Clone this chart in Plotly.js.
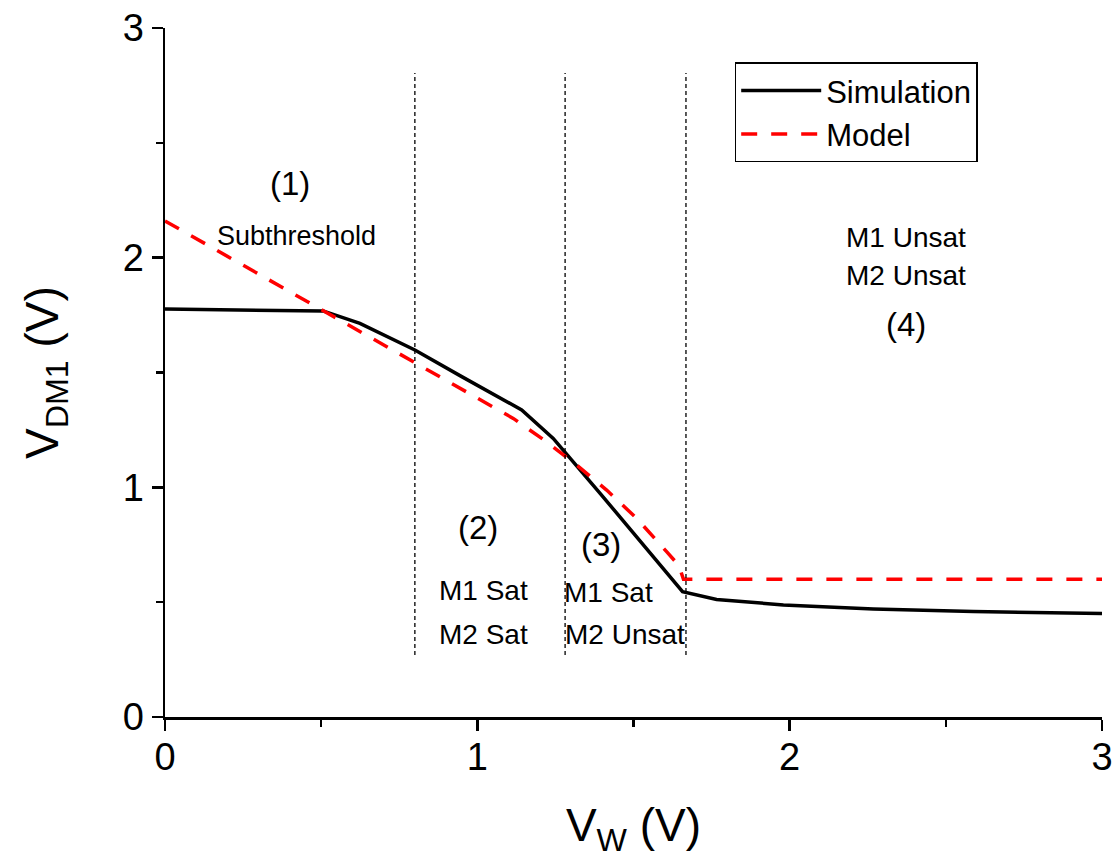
<!DOCTYPE html>
<html><head><meta charset="utf-8">
<script src="https://cdn.plot.ly/plotly-3.0.1.min.js"></script>
<style>html,body{margin:0;padding:0;background:#fff}#chart{width:1120px;height:867px}</style>
</head><body><div id="chart"></div>
<script>
const simX = [0, 0.42, 0.506, 0.624, 0.80, 0.95, 1.142, 1.243, 1.393, 1.657, 1.766, 1.98, 2.268, 2.588, 3.0];
const simY = [1.776, 1.772, 1.768, 1.714, 1.598, 1.482, 1.337, 1.213, 0.974, 0.546, 0.512, 0.488, 0.470, 0.459, 0.451];
const modelX = [0, 0.506, 0.803, 1.115, 1.222, 1.318, 1.414, 1.51, 1.606, 1.645, 1.66, 3.0];
const modelY = [2.16, 1.768, 1.54, 1.30, 1.198, 1.097, 0.988, 0.865, 0.72, 0.66, 0.60, 0.60];
const regionBounds = [0.80, 1.281, 1.668];
const regionTop = 2.804, regionBottom = 0.27;
const labels = [
  {x: 0.40, y: 2.325, t: "(1)", s: 33},
  {x: 0.42, y: 2.094, t: "Subthreshold", s: 27},
  {x: 1.002, y: 0.823, t: "(2)", s: 33},
  {x: 1.02, y: 0.549, t: "M1 Sat", s: 28},
  {x: 1.02, y: 0.361, t: "M2 Sat", s: 28},
  {x: 1.396, y: 0.753, t: "(3)", s: 33},
  {x: 1.42, y: 0.54, t: "M1 Sat", s: 28},
  {x: 1.473, y: 0.361, t: "M2 Unsat", s: 28},
  {x: 2.372, y: 2.086, t: "M1 Unsat", s: 28},
  {x: 2.372, y: 1.924, t: "M2 Unsat", s: 28},
  {x: 2.372, y: 1.711, t: "(4)", s: 33}
];
const F = "Liberation Sans, Arial, sans-serif";
const traces = [
  {x: simX, y: simY, mode: 'lines', name: 'Simulation', line: {color: '#000', width: 3.5}},
  {x: modelX, y: modelY, mode: 'lines', name: 'Model', line: {color: '#ff0000', width: 3.5, dash: '16px,14px'}}
];
const shapes = regionBounds.map(b => ({type: 'line', xref: 'x', yref: 'y', x0: b, x1: b, y0: regionBottom, y1: regionTop,
  line: {color: '#000', width: 1.3, dash: '4px,3px'}}));
const annotations = labels.map(a => ({x: a.x, y: a.y, xref: 'x', yref: 'y', text: a.t, showarrow: false,
  font: {family: F, size: a.s, color: '#000'}}));
const layout = {
  width: 1120, height: 867,
  margin: {l: 165, r: 18, t: 28, b: 150},
  paper_bgcolor: '#fff', plot_bgcolor: '#fff',
  font: {family: F, color: '#000'},
  xaxis: {range: [0, 3], tickvals: [0, 1, 2, 3], ticks: 'outside', ticklen: 11, tickwidth: 2.5, tickcolor: '#000',
    showline: true, linewidth: 2.5, linecolor: '#000', showgrid: false, zeroline: false, ticklabelstandoff: -6,
    tickfont: {family: F, size: 38, color: '#000'}, minor: {tickvals: [0.5, 1.5, 2.5], ticks: 'outside', ticklen: 7, tickwidth: 2.5, tickcolor: '#000'},
    title: {text: 'V<sub>W</sub> (V)', font: {family: F, size: 46, color: '#000'}, standoff: 32}},
  yaxis: {range: [0, 3], tickvals: [0, 1, 2, 3], ticks: 'outside', ticklen: 11, tickwidth: 2.5, tickcolor: '#000',
    showline: true, linewidth: 2.5, linecolor: '#000', showgrid: false, zeroline: false,
    tickfont: {family: F, size: 38, color: '#000'}, minor: {tickvals: [0.5, 1.5, 2.5], ticks: 'outside', ticklen: 7, tickwidth: 2.5, tickcolor: '#000'},
    title: {text: 'V<sub>DM1</sub> (V)', font: {family: F, size: 46, color: '#000'}, standoff: 50}},
  showlegend: true,
  legend: {x: 0.608, y: 0.95, xanchor: 'left', yanchor: 'top', bgcolor: '#fff', bordercolor: '#000', borderwidth: 1.5,
    font: {family: F, size: 31, color: '#000'}, tracegroupgap: 0, itemwidth: 80},
  shapes: shapes, annotations: annotations
};
Plotly.newPlot('chart', traces, layout, {staticPlot: true, displayModeBar: false});
</script></body></html>
